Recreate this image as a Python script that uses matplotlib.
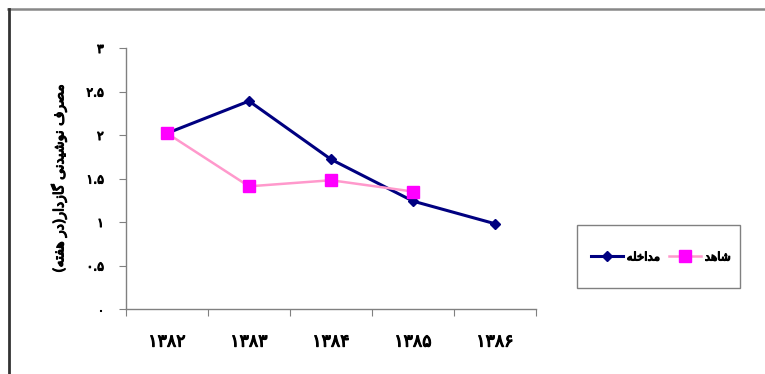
import matplotlib
matplotlib.use("Agg")
import matplotlib.pyplot as plt
import matplotlib.patheffects as pe
from matplotlib.lines import Line2D
from matplotlib.patches import Rectangle

# ---- data ----
years = ["1382", "1383", "1384", "1385", "1386"]
intervention = [2.02, 2.39, 1.72, 1.24, 0.98]   # مداخله
control = [2.02, 1.41, 1.48, 1.35]               # شاهد
y_ticks = [0, 0.5, 1, 1.5, 2, 2.5, 3]

y_title = "مصرف نوشیدنی گازدار(در هفته)"
name_intervention = "مداخله"
name_control = "شاهد"

# ---- minimal Persian shaping (contextual forms + visual order) ----
FORMS = {
    'ا': ('\uFE8D', '\uFE8E', None, None),
    'د': ('\uFEA9', '\uFEAA', None, None),
    'ر': ('\uFEAD', '\uFEAE', None, None),
    'ز': ('\uFEAF', '\uFEB0', None, None),
    'و': ('\uFEED', '\uFEEE', None, None),
    'ت': ('\uFE95', '\uFE96', '\uFE97', '\uFE98'),
    'خ': ('\uFEA5', '\uFEA6', '\uFEA7', '\uFEA8'),
    'ش': ('\uFEB5', '\uFEB6', '\uFEB7', '\uFEB8'),
    'ص': ('\uFEB9', '\uFEBA', '\uFEBB', '\uFEBC'),
    'ف': ('\uFED1', '\uFED2', '\uFED3', '\uFED4'),
    'ل': ('\uFEDD', '\uFEDE', '\uFEDF', '\uFEE0'),
    'م': ('\uFEE1', '\uFEE2', '\uFEE3', '\uFEE4'),
    'ن': ('\uFEE5', '\uFEE6', '\uFEE7', '\uFEE8'),
    'ه': ('\uFEE9', '\uFEEA', '\uFEEB', '\uFEEC'),
    'ی': ('\uFBFC', '\uFBFD', '\uFBFE', '\uFBFF'),
    'گ': ('\uFB92', '\uFB93', '\uFB94', '\uFB95'),
}
MIRROR = {'(': ')', ')': '('}


def shape(text):
    out = []
    n = len(text)
    for i, ch in enumerate(text):
        if ch not in FORMS:
            out.append(ch)
            continue
        prev = text[i - 1] if i > 0 else ''
        nxt = text[i + 1] if i + 1 < n else ''
        join_prev = prev in FORMS and FORMS[prev][2] is not None
        join_next = nxt in FORMS and FORMS[ch][2] is not None
        iso, fin, ini, med = FORMS[ch]
        if join_prev and join_next:
            out.append(med)
        elif join_prev:
            out.append(fin)
        elif join_next:
            out.append(ini)
        else:
            out.append(iso)
    return ''.join(MIRROR.get(c, c) for c in reversed(out))


FA_DIGITS = str.maketrans("0123456789", "۰۱۲۳۴۵۶۷۸۹")


def fa_num(v):
    return ("%g" % v).translate(FA_DIGITS)


plt.rcParams['font.family'] = ['DejaVu Sans']
heavy = [pe.withStroke(linewidth=0.8, foreground="black")]

fig = plt.figure(figsize=(7.65, 3.74), dpi=100)
ax = fig.add_axes([126 / 765, 1 - 309 / 374, 410 / 765, 261 / 374])

x = list(range(len(years)))
ax.plot(x, intervention, color="#000080", lw=2.2, marker="D", ms=5.5,
        mfc="#000080", mec="#000080", label=shape(name_intervention), zorder=3)
ax.plot(x[:len(control)], control, color="#FF99CC", lw=1.8, marker="s", ms=8,
        mfc="#FF00FF", mec="#FF00FF", label=shape(name_control), zorder=4)

ax.set_xlim(-0.5, len(years) - 0.5)
ax.set_ylim(0, 3)

gray = "#808080"
for s in ("top", "right"):
    ax.spines[s].set_visible(False)
for s in ("left", "bottom"):
    ax.spines[s].set_color(gray)
    ax.spines[s].set_linewidth(1.0)

ax.set_yticks(y_ticks)
ax.set_yticklabels([fa_num(v) for v in y_ticks], fontsize=9)
ax.tick_params(axis="y", direction="out", length=5, color=gray, pad=11)
for t in ax.get_yticklabels():
    t.set_path_effects(heavy)

ax.set_xticks([i - 0.5 for i in range(len(years) + 1)])
ax.set_xticklabels([])
ax.set_xticks(x, minor=True)
ax.set_xticklabels([y.translate(FA_DIGITS) for y in years], minor=True,
                   fontsize=12.5)
ax.tick_params(axis="x", which="major", direction="out", length=5, color=gray)
ax.tick_params(axis="x", which="minor", length=0, pad=17)
for t in ax.get_xticklabels(minor=True):
    t.set_path_effects(heavy)

ylab = ax.set_ylabel(shape(y_title), fontsize=10)
ylab.set_path_effects(heavy)
ax.yaxis.set_label_coords(-0.145, 0.5)

# legend box with roomy vertical padding
fig.add_artist(Rectangle((577 / 765, 1 - 288 / 374), 163 / 765, 63 / 374,
                         transform=fig.transFigure, fill=False,
                         edgecolor=gray, lw=1.0))
leg = fig.legend(loc="center", bbox_to_anchor=(661 / 765, 1 - 257 / 374),
                 ncol=2, frameon=False, prop={"size": 8.5},
                 handlelength=2.7, columnspacing=0.8, handletextpad=0.3)
for t in leg.get_texts():
    t.set_path_effects(heavy)

# outer chart frame (top and left edges)
fig.add_artist(Line2D([8 / 765, 1], [1 - 8.5 / 374, 1 - 8.5 / 374],
                      transform=fig.transFigure, color="#888888", lw=1.8))
fig.add_artist(Line2D([9 / 765, 9 / 765], [0, 1 - 8.5 / 374],
                      transform=fig.transFigure, color="#333333", lw=2.0))

fig.savefig("out.png", dpi=100, facecolor="white")
